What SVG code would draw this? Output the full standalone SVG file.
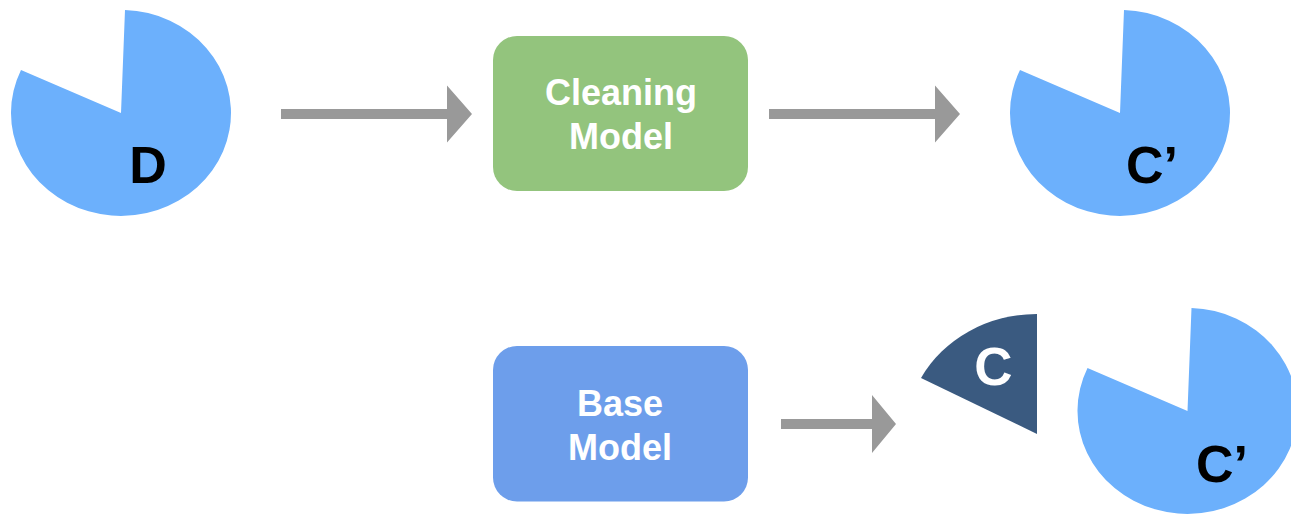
<svg xmlns="http://www.w3.org/2000/svg" width="1291" height="514" viewBox="0 0 1291 514">
  <style>
    .pie { fill: #6cb0fc; }
    .wedge { fill: #3a5a80; }
    .box-text { font-family: "Liberation Sans", Arial, sans-serif; font-weight: bold; font-size: 36px; fill: #ffffff; text-anchor: middle; }
    .pie-label { font-family: "Liberation Sans", Arial, sans-serif; font-weight: bold; font-size: 52px; fill: #000000; text-anchor: middle; }
    .arrow { fill: #999999; }
  </style>
  <defs>
    <path id="arrowShape" d="M0,-5 L166,-5 L166,-28.5 L191,0 L166,28.5 L166,5 L0,5 Z"/>
  </defs>
  <rect width="1291" height="514" fill="#ffffff"/>

  <!-- dataset D -->
  <g id="dataset-d">
    <path class="pie" d="M121,113 L125,10 A110,103 0 1 1 21,70 Z"/>
    <text class="pie-label" x="148" y="183">D</text>
  </g>

  <!-- cleaning model -->
  <g id="cleaning-model">
    <rect x="493" y="36" width="255" height="155" rx="24" fill="#93c47d"/>
    <text class="box-text" x="621" y="105">Cleaning</text>
    <text class="box-text" x="621" y="149">Model</text>
  </g>

  <!-- cleaned set C' -->
  <g id="cleaned-set-top">
    <path class="pie" d="M1120,113 L1124,10 A110,103 0 1 1 1020,70 Z"/>
    <text class="pie-label" x="1152" y="183">C’</text>
  </g>

  <!-- base model -->
  <g id="base-model">
    <rect x="493" y="346" width="255" height="155.5" rx="24" fill="#6d9eeb"/>
    <text class="box-text" x="620" y="416">Base</text>
    <text class="box-text" x="620" y="460">Model</text>
  </g>

  <!-- removed part C -->
  <g id="removed-c">
    <path class="wedge" d="M1037,434 L921,378 A131,120 0 0 1 1037,314 Z"/>
    <text class="pie-label" x="993.5" y="385" style="fill:#ffffff;font-size:53px">C</text>
  </g>

  <!-- cleaned set C' (bottom) -->
  <g id="cleaned-set-bottom">
    <path class="pie" d="M1187.5,411 L1191.5,308 A110,103 0 1 1 1087.5,368 Z"/>
    <text class="pie-label" x="1222" y="482">C’</text>
  </g>

  <!-- connectors -->
  <g id="connectors">
    <use href="#arrowShape" class="arrow" transform="translate(281,114)"/>
    <use href="#arrowShape" class="arrow" transform="translate(769,114)"/>
    <path class="arrow" d="M781,419 L872,419 L872,395 L896,424 L872,453 L872,429 L781,429 Z"/>
  </g>
</svg>
